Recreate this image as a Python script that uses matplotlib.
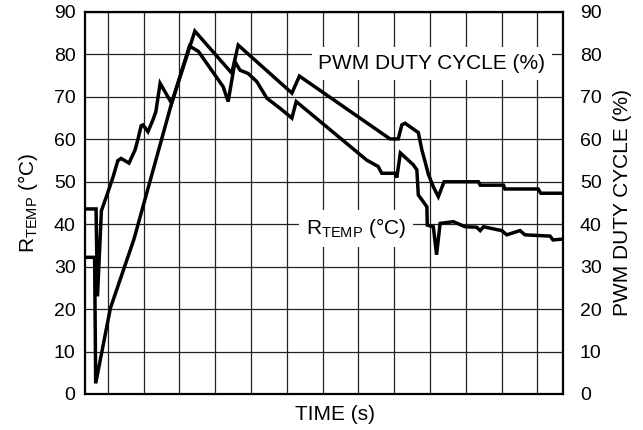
import matplotlib
matplotlib.use("Agg")
import matplotlib.pyplot as plt
import numpy as np

plt.rcParams["font.family"] = ["Liberation Sans", "DejaVu Sans"]
plt.rcParams["mathtext.fontset"] = "custom"
plt.rcParams["mathtext.rm"] = "Liberation Sans"
plt.rcParams["mathtext.it"] = "Liberation Sans:italic"
plt.rcParams["mathtext.bf"] = "Liberation Sans:bold"

# PWM duty cycle (%) versus time
pwm_t = [0, 2.6, 2.9, 7.0, 13.6, 24.1, 30.6, 40.9, 42.7, 57.7, 59.8, 85.1, 87.4,
         88.4, 89.3, 93.0, 94.0, 95.0, 95.8, 97.2, 98.6, 100.2, 109.8, 110.3,
         116.8, 117.2, 126.5, 127.2, 133.5]
pwm_v = [32.2, 32.2, 2.5, 20.2, 36.5, 68.5, 85.5, 75.6, 82.2, 70.9, 74.9, 60.1, 60.1,
         63.4, 63.8, 61.6, 57.5, 54.4, 51.8, 48.8, 46.5, 50.0, 50.0, 49.2,
         49.2, 48.3, 48.3, 47.3, 47.3]

# Remote temperature reading (°C) versus time
temp_t = [0, 3.0, 3.4, 4.5, 6.1, 7.7, 9.1, 10.0, 12.2, 13.9, 14.7, 15.6, 16.1, 17.5,
          18.9, 19.7, 20.9, 24.1, 29.1, 31.6, 38.5, 39.9, 41.8, 43.2, 45.5, 47.9,
          50.7, 54.4, 57.7, 58.9, 78.6, 81.8, 82.8, 86.5, 87.0, 88.0, 91.6, 92.6,
          93.0, 94.4, 95.4, 95.5, 97.2, 98.1, 99.1, 102.8, 106.1, 109.3, 110.3,
          111.2, 116.3, 117.7, 121.4, 122.8, 129.8, 130.6, 133.5]
temp_v = [43.6, 43.6, 23.0, 43.2, 47.0, 51.0, 55.0, 55.5, 54.4, 57.5, 60.0, 63.2, 63.4, 61.8,
          64.6, 66.5, 73.2, 68.5, 82.0, 80.7, 72.4, 68.9, 78.3, 76.3, 75.5, 73.6,
          69.7, 67.3, 65.0, 68.9, 55.1, 53.6, 52.0, 52.0, 51.0, 56.8, 54.0, 52.8,
          46.9, 45.3, 44.1, 39.8, 39.4, 32.8, 40.2, 40.6, 39.4, 39.3, 38.5,
          39.4, 38.5, 37.5, 38.5, 37.5, 37.2, 36.3, 36.5]

y_ticks = list(range(0, 100, 10))
time_grid = [6.26 + 10 * k for k in range(13)]

W, H = 643, 430
fig = plt.figure(figsize=(W / 100, H / 100), dpi=100)


def fx(px):
    return px / W


def fy(py):
    return 1 - py / H


left, right, top, bottom = 85.3, 563.3, 12, 394
ax = fig.add_axes([fx(left), fy(bottom), (right - left) / W, (bottom - top) / H])
ax.set_xlim(0, 133.5)
ax.set_ylim(0, 90)

ax.set_xticks(time_grid)
ax.set_xticklabels([])
ax.set_yticks(y_ticks)
ax.set_yticklabels([str(v) for v in y_ticks], fontsize=14)
ax.tick_params(axis="both", length=0)
ax.tick_params(axis="y", pad=7)
ax.grid(True, color="#222222", linewidth=0.9)
ax.set_axisbelow(True)
for s in ax.spines.values():
    s.set_linewidth(1.6)
    s.set_color("black")

ax2 = ax.twinx()
ax2.set_ylim(0, 90)
ax2.set_yticks(y_ticks)
ax2.set_yticklabels([str(v) for v in y_ticks], fontsize=14)
ax2.tick_params(axis="y", length=0, pad=12)
for s in ax2.spines.values():
    s.set_visible(False)

ax.plot(pwm_t, pwm_v, color="black", linewidth=2.5, solid_joinstyle="miter", zorder=4)
ax.plot(temp_t, temp_v, color="black", linewidth=2.5, solid_joinstyle="miter", zorder=4)

box = dict(facecolor="white", edgecolor="none", pad=5)
ax.text(65.1, 76.6, "PWM DUTY CYCLE (%)", fontsize=15, ha="left", va="baseline",
        bbox=box, zorder=3)
ax.text(61.5, 37.6, r"R$_{\mathrm{TEMP}}$ (°C)", fontsize=15, ha="left", va="baseline",
        bbox=box, zorder=3)

fig.text(fx(28), fy(203), r"R$_{\mathrm{TEMP}}$ (°C)", fontsize=15, rotation=90,
         ha="center", va="center")
fig.text(fx(623), fy(203), "PWM DUTY CYCLE (%)", fontsize=15, rotation=90,
         ha="center", va="center")
fig.text(fx(335), fy(415), "TIME (s)", fontsize=15, ha="center", va="center")

fig.savefig("out.png", dpi=100)
